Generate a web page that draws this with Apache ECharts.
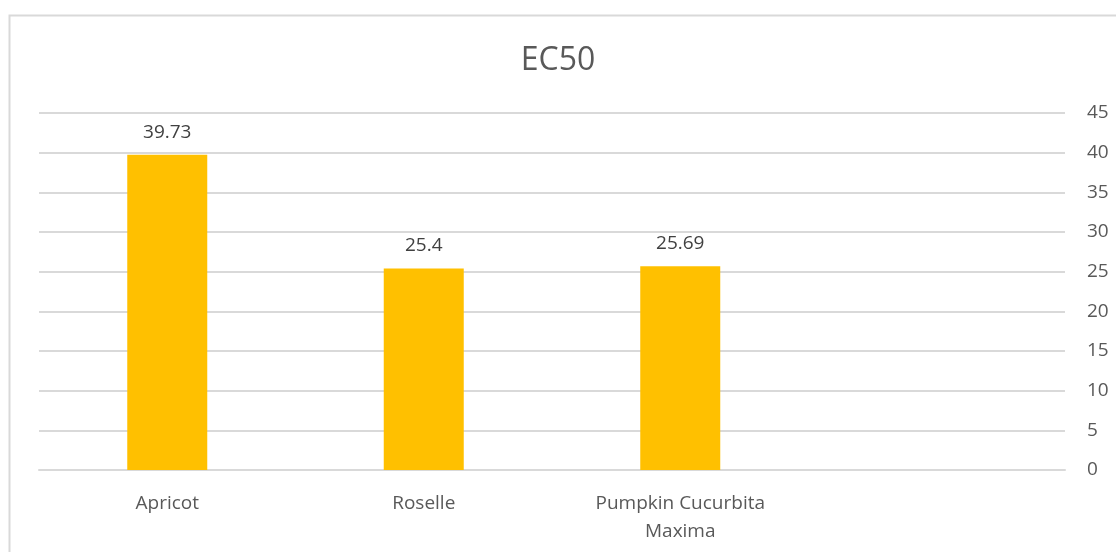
<!DOCTYPE html>
<html>
<head>
<meta charset="utf-8">
<script src="https://cdn.jsdelivr.net/npm/echarts@6/dist/echarts.min.js"></script>
<style>
  html, body { margin: 0; padding: 0; background: #fff; }
  #chart { width: 1116px; height: 552px; }
</style>
</head>
<body>
<div id="chart"></div>
<script>
// EC50 values per extract (4th slot empty in the original sheet)
const categories = ["Apricot", "Roselle", "Pumpkin Cucurbita\nMaxima", ""];
const ec50Values = [39.73, 25.4, 25.69, null];
const yTicks = { min: 0, max: 45, interval: 5 };

const chart = echarts.init(document.getElementById("chart"));
const textColor = "#595959";
const font = "'Open Sans', sans-serif";

chart.setOption({
  backgroundColor: "#fff",
  animation: false,
  title: {
    text: "EC50",
    left: "center",
    top: 40,
    textStyle: { fontFamily: font, fontSize: 32, fontWeight: "normal", color: textColor },
  },
  graphic: [
    {
      type: "rect",
      shape: { x: 9.5, y: 15.5, width: 1130, height: 560 },
      style: { fill: "none", stroke: "#d9d9d9", lineWidth: 2 },
      silent: true,
    },
  ],
  grid: { left: 39, right: 51, top: 113, bottom: 82 },
  xAxis: {
    type: "category",
    data: categories,
    axisLine: { lineStyle: { color: "#d9d9d9", width: 2 } },
    axisTick: { show: false },
    axisLabel: {
      interval: 0,
      margin: 20,
      fontFamily: font,
      fontSize: 19,
      lineHeight: 28,
      color: textColor,
    },
  },
  yAxis: {
    type: "value",
    position: "right",
    min: yTicks.min,
    max: yTicks.max,
    interval: yTicks.interval,
    axisLine: { show: false },
    axisTick: { show: false },
    splitLine: { lineStyle: { color: "#d9d9d9", width: 2 } },
    axisLabel: { margin: 22, fontFamily: font, fontSize: 19, color: textColor },
  },
  series: [
    {
      name: "EC50",
      type: "bar",
      data: ec50Values,
      barWidth: 80,
      itemStyle: { color: "#ffc000" },
      label: {
        show: true,
        position: "top",
        distance: 13,
        fontFamily: font,
        fontSize: 19,
        color: "#404040",
      },
    },
  ],
});
</script>
</body>
</html>
